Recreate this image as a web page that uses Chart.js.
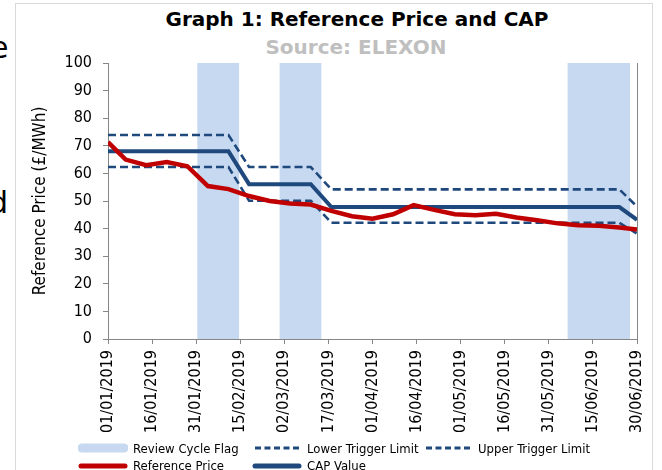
<!DOCTYPE html>
<html>
<head>
<meta charset="utf-8">
<script src="https://cdn.jsdelivr.net/npm/chart.js@4.4.1/dist/chart.umd.min.js"></script>
<style>
  html, body { margin: 0; padding: 0; background: #fff; width: 662px; height: 470px; overflow: hidden; }
  body { position: relative; font-family: 'DejaVu Sans Condensed', 'DejaVu Sans', sans-serif; color: #000; }
  #frame { position: absolute; left: 15px; top: 3px; width: 638px; height: 520px; border: 1px solid #d9d9d9; box-sizing: border-box; }
  #wrap { position: absolute; left: 0; top: 0; width: 662px; height: 440px; }
  #title { position: absolute; left: 0; width: 714px; top: 6px; text-align: center; font-family: 'DejaVu Sans', sans-serif; font-weight: bold; font-size: 20px; line-height: 26px; }
  #subtitle { position: absolute; left: 0; width: 712px; top: 36px; text-align: center; font-family: 'DejaVu Sans', sans-serif; font-weight: bold; font-size: 20px; line-height: 22px; color: #bfbfbf; }
  .cut { position: absolute; font-family: 'DejaVu Sans', sans-serif; font-size: 30px; line-height: 30px; color: #000; }
  #legend { position: absolute; left: 0; top: 437px; width: 662px; height: 40px; }
  .li { position: absolute; height: 18px; display: flex; align-items: center; font-size: 13px; white-space: nowrap; }
  .li svg { margin-right: 5px; }
</style>
</head>
<body>
<div class="cut" style="left:-10px; top:33px;">e</div>
<div class="cut" style="left:-11px; top:188px;">d</div>
<div id="frame"></div>
<div id="title">Graph 1: Reference Price and CAP</div>
<div id="subtitle">Source: ELEXON</div>
<div id="wrap"><canvas id="c" width="662" height="440"></canvas></div>
<div id="legend"></div>
<script>
// ---- data ----
const tickLabels = ['01/01/2019','16/01/2019','31/01/2019','15/02/2019','02/03/2019','17/03/2019','01/04/2019','16/04/2019','01/05/2019','16/05/2019','31/05/2019','15/06/2019','30/06/2019'];
const weekDates = ['01/01/2019','07/01/2019','14/01/2019','21/01/2019','28/01/2019','04/02/2019','11/02/2019','18/02/2019','25/02/2019','04/03/2019','11/03/2019','18/03/2019','25/03/2019','01/04/2019','08/04/2019','15/04/2019','22/04/2019','29/04/2019','06/05/2019','13/05/2019','20/05/2019','27/05/2019','03/06/2019','10/06/2019','17/06/2019','24/06/2019','30/06/2019'];
const referencePrice = [71.3,65.0,63.0,64.1,62.6,55.4,54.3,51.8,50.0,49.1,48.7,46.4,44.5,43.6,45.2,48.5,46.8,45.2,44.8,45.4,44.0,43.0,41.9,41.2,41.0,40.4,39.7];
const capValue = [68.0,68.0,68.0,68.0,68.0,68.0,68.0,56.1,56.1,56.1,56.1,47.8,47.8,47.8,47.8,47.8,47.8,47.8,47.8,47.8,47.8,47.8,47.8,47.8,47.8,47.8,43.2];
const upperTrigger = [73.9,73.9,73.9,73.9,73.9,73.9,73.9,62.3,62.3,62.3,62.3,54.2,54.2,54.2,54.2,54.2,54.2,54.2,54.2,54.2,54.2,54.2,54.2,54.2,54.2,54.2,48.0];
const lowerTrigger = [62.3,62.3,62.3,62.3,62.3,62.3,62.3,50.1,50.1,50.1,50.1,42.1,42.1,42.1,42.1,42.1,42.1,42.1,42.1,42.1,42.1,42.1,42.1,42.1,42.1,42.1,38.2];
const flagDates = ['04/02/2019','11/02/2019','04/03/2019','11/03/2019','10/06/2019','17/06/2019','24/06/2019'];
const flagValues = [100,100,100,100,100,100,100];

// ---- helpers ----
const toDay = s => { const [d, m, y] = s.split('/').map(Number); return (Date.UTC(y, m - 1, d) - Date.UTC(2019, 0, 1)) / 86400000; };
const pts = (dates, vals) => dates.map((d, i) => ({ x: toDay(d), y: vals[i] }));

const RED = '#c00000', BLUE = '#1f497d', FLAG = '#c6d9f0', AXIS = '#868686';
const FONT = "'DejaVu Sans Condensed', 'DejaVu Sans', sans-serif";

const datasets = [
  { label: 'Reference Price', data: pts(weekDates, referencePrice), borderColor: RED, backgroundColor: RED, borderWidth: 4.5, pointRadius: 0, tension: 0, yAxisID: 'y', legend: { col: 0, row: 1, w: 5 } },
  { label: 'CAP Value', data: pts(weekDates, capValue), borderColor: BLUE, backgroundColor: BLUE, borderWidth: 4, pointRadius: 0, tension: 0, yAxisID: 'y', legend: { col: 1, row: 1, w: 5 } },
  { label: 'Upper Trigger Limit', data: pts(weekDates, upperTrigger), borderColor: BLUE, backgroundColor: BLUE, borderWidth: 2.6, borderDash: [8, 4], pointRadius: 0, tension: 0, yAxisID: 'y', legend: { col: 2, row: 0, w: 3, dash: '6 3.5' } },
  { label: 'Lower Trigger Limit', data: pts(weekDates, lowerTrigger), borderColor: BLUE, backgroundColor: BLUE, borderWidth: 2.6, borderDash: [8, 4], pointRadius: 0, tension: 0, yAxisID: 'y', legend: { col: 1, row: 0, w: 3, dash: '6 3.5' } },
  { type: 'bar', label: 'Review Cycle Flag', data: pts(flagDates, flagValues), backgroundColor: FLAG, borderWidth: 0, barPercentage: 1, categoryPercentage: 1, yAxisID: 'y2', legend: { col: 0, row: 0, w: 9, flag: true } }
];

const chart = new Chart(document.getElementById('c'), {
  type: 'line',
  data: { datasets },
  options: {
    responsive: false,
    animation: false,
    devicePixelRatio: 1,
    layout: { padding: { left: 0, top: 63, right: 25, bottom: 0 } },
    plugins: { legend: { display: false }, tooltip: { enabled: false }, title: { display: false } },
    scales: {
      x: {
        type: 'linear', min: 0, max: 180, offset: false,
        ticks: { stepSize: 15, autoSkip: false, maxRotation: 90, minRotation: 90, padding: 6, color: '#000', font: { family: FONT, size: 16 },
                 callback: v => tickLabels[Math.round(v / 15)] },
        grid: { offset: false, drawOnChartArea: false, drawTicks: true, tickLength: 5, color: AXIS },
        border: { color: AXIS, width: 1 },
        afterFit: s => { s.height = 101; s.paddingLeft = 0; s.paddingRight = 0; }
      },
      y: {
        position: 'left', min: 0, max: 100,
        ticks: { stepSize: 10, padding: 11, color: '#000', font: { family: FONT, size: 16 } },
        grid: { drawOnChartArea: false, drawTicks: true, tickLength: 5, color: AXIS },
        border: { color: AXIS, width: 1 },
        title: { display: true, text: 'Reference Price (£/MWh)', color: '#000', font: { family: FONT, size: 17 }, padding: { top: 30, bottom: 0 } },
        afterFit: s => { s.width = 108; }
      },
      y2: {
        position: 'right', min: 0, max: 100,
        ticks: { display: false },
        grid: { display: false },
        border: { display: true, color: AXIS, width: 1 },
        afterFit: s => { s.width = 0; }
      }
    }
  }
});

// ---- legend built from the chart's datasets (Excel-style grid) ----
const legendEl = document.getElementById('legend');
const colX = [78, 252, 423];
const rowY = [2, 19.5];
['Review Cycle Flag', 'Lower Trigger Limit', 'Upper Trigger Limit', 'Reference Price', 'CAP Value'].forEach(name => {
  const ds = chart.data.datasets.find(d => d.label === name);
  const L = ds.legend;
  const item = document.createElement('div');
  item.className = 'li';
  item.style.left = colX[L.col] + 'px';
  item.style.top = rowY[L.row] + 'px';
  const color = L.flag ? FLAG : ds.borderColor;
  const dash = L.dash ? ` stroke-dasharray="${L.dash}"` : '';
  const cap = L.dash ? 'butt' : 'round';
  item.innerHTML = `<svg width="50" height="12"><line x1="${L.flag ? 4 : 3}" y1="6" x2="${L.flag ? 46 : 47}" y2="6" stroke="${color}" stroke-width="${L.w}" stroke-linecap="${cap}"${dash}/></svg><span></span>`;
  item.querySelector('span').textContent = ds.label;
  legendEl.appendChild(item);
});
</script>
</body>
</html>
